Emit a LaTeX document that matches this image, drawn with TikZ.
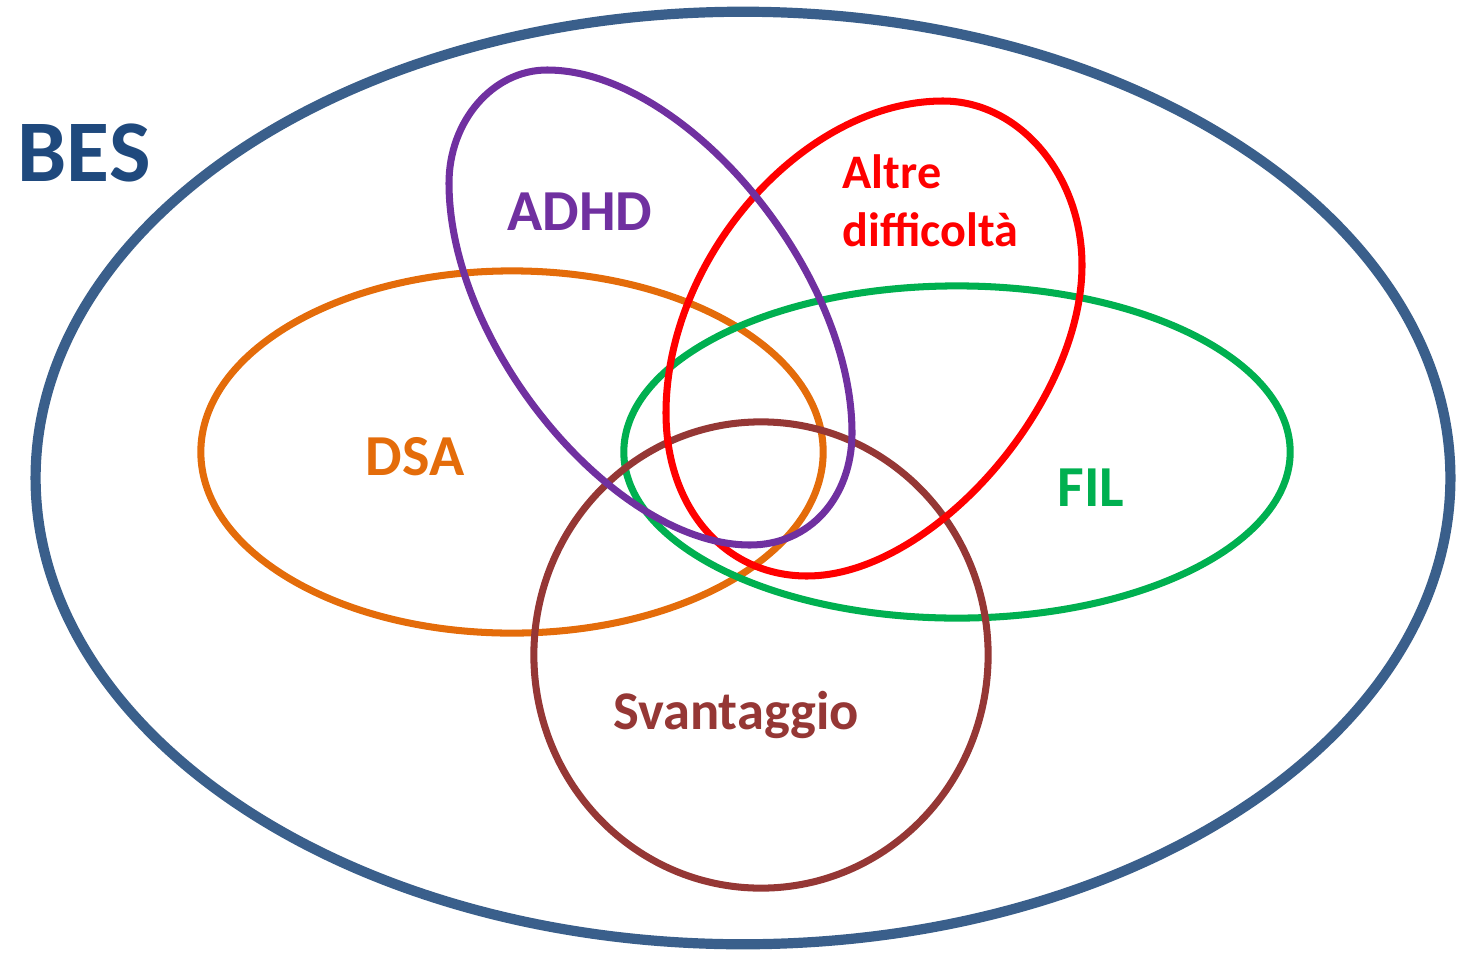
\documentclass[tikz,border=0pt]{standalone}
\usepackage{fontspec}
\setmainfont{Carlito}
\definecolor{besblue}{HTML}{3A5F8B}
\definecolor{bestext}{HTML}{1F497D}
\definecolor{adhdpurple}{HTML}{7030A0}
\definecolor{dsaorange}{HTML}{E46C0A}
\definecolor{filgreen}{HTML}{00B050}
\definecolor{svbrown}{HTML}{953735}
\definecolor{altrered}{HTML}{FF0000}

\begin{document}
\begin{tikzpicture}[x=0.01cm, y=-0.01cm]
\useasboundingbox (0,0) rectangle (1466,954);
% Outer set
\draw[besblue, line width=2.9pt] (743,478) ellipse [x radius=7.07cm, y radius=4.66cm];

% Inner sets
\draw[dsaorange, line width=2pt] (512,452) ellipse [x radius=3.11cm, y radius=1.81cm];
\draw[filgreen, line width=2pt] (957,452) ellipse [x radius=3.33cm, y radius=1.66cm];
\draw[svbrown, line width=2pt] (761,655) ellipse [x radius=2.27cm, y radius=2.33cm];
% Tilted egg shapes
\draw[altrered, line width=2pt] (943,101) .. controls (1019,101) and (1082,175) .. (1082,265)
  .. controls (1082,405) and (931,576) .. (807,576)
  .. controls (725,576) and (666,508) .. (666,413)
  .. controls (666,257) and (804,101) .. cycle;
\draw[adhdpurple, line width=2pt] (547,70) .. controls (684,70) and (852,270) .. (852,433)
  .. controls (852,497) and (810,545) .. (750,545)
  .. controls (615,545) and (449,346) .. (449,183)
  .. controls (449,121) and (493,70) .. cycle;

% Labels
\node[bestext, font=\fontsize{25}{30}\selectfont\bfseries, anchor=base] (bes) at (84,181) {BES};
\node[adhdpurple, font=\fontsize{16.5}{20}\selectfont\bfseries, anchor=base] (adhd) at (580,230) {ADHD};
\node[altrered, font=\fontsize{13.7}{16}\selectfont\bfseries, anchor=base west, inner sep=0pt] (altre) at (842,188) {Altre};
\node[altrered, font=\fontsize{13.7}{16}\selectfont\bfseries, anchor=base west, inner sep=0pt] (diff) at (842,246) {difficoltà};
\node[dsaorange, font=\fontsize{16.5}{20}\selectfont\bfseries, anchor=base] (dsa) at (415,475) {DSA};
\node[filgreen, font=\fontsize{16.5}{20}\selectfont\bfseries, anchor=base] (fil) at (1091,506) {FIL};
\node[svbrown, font=\fontsize{15.5}{19}\selectfont\bfseries, anchor=base] (sv) at (736,729) {Svantaggio};
\end{tikzpicture}
\end{document}
